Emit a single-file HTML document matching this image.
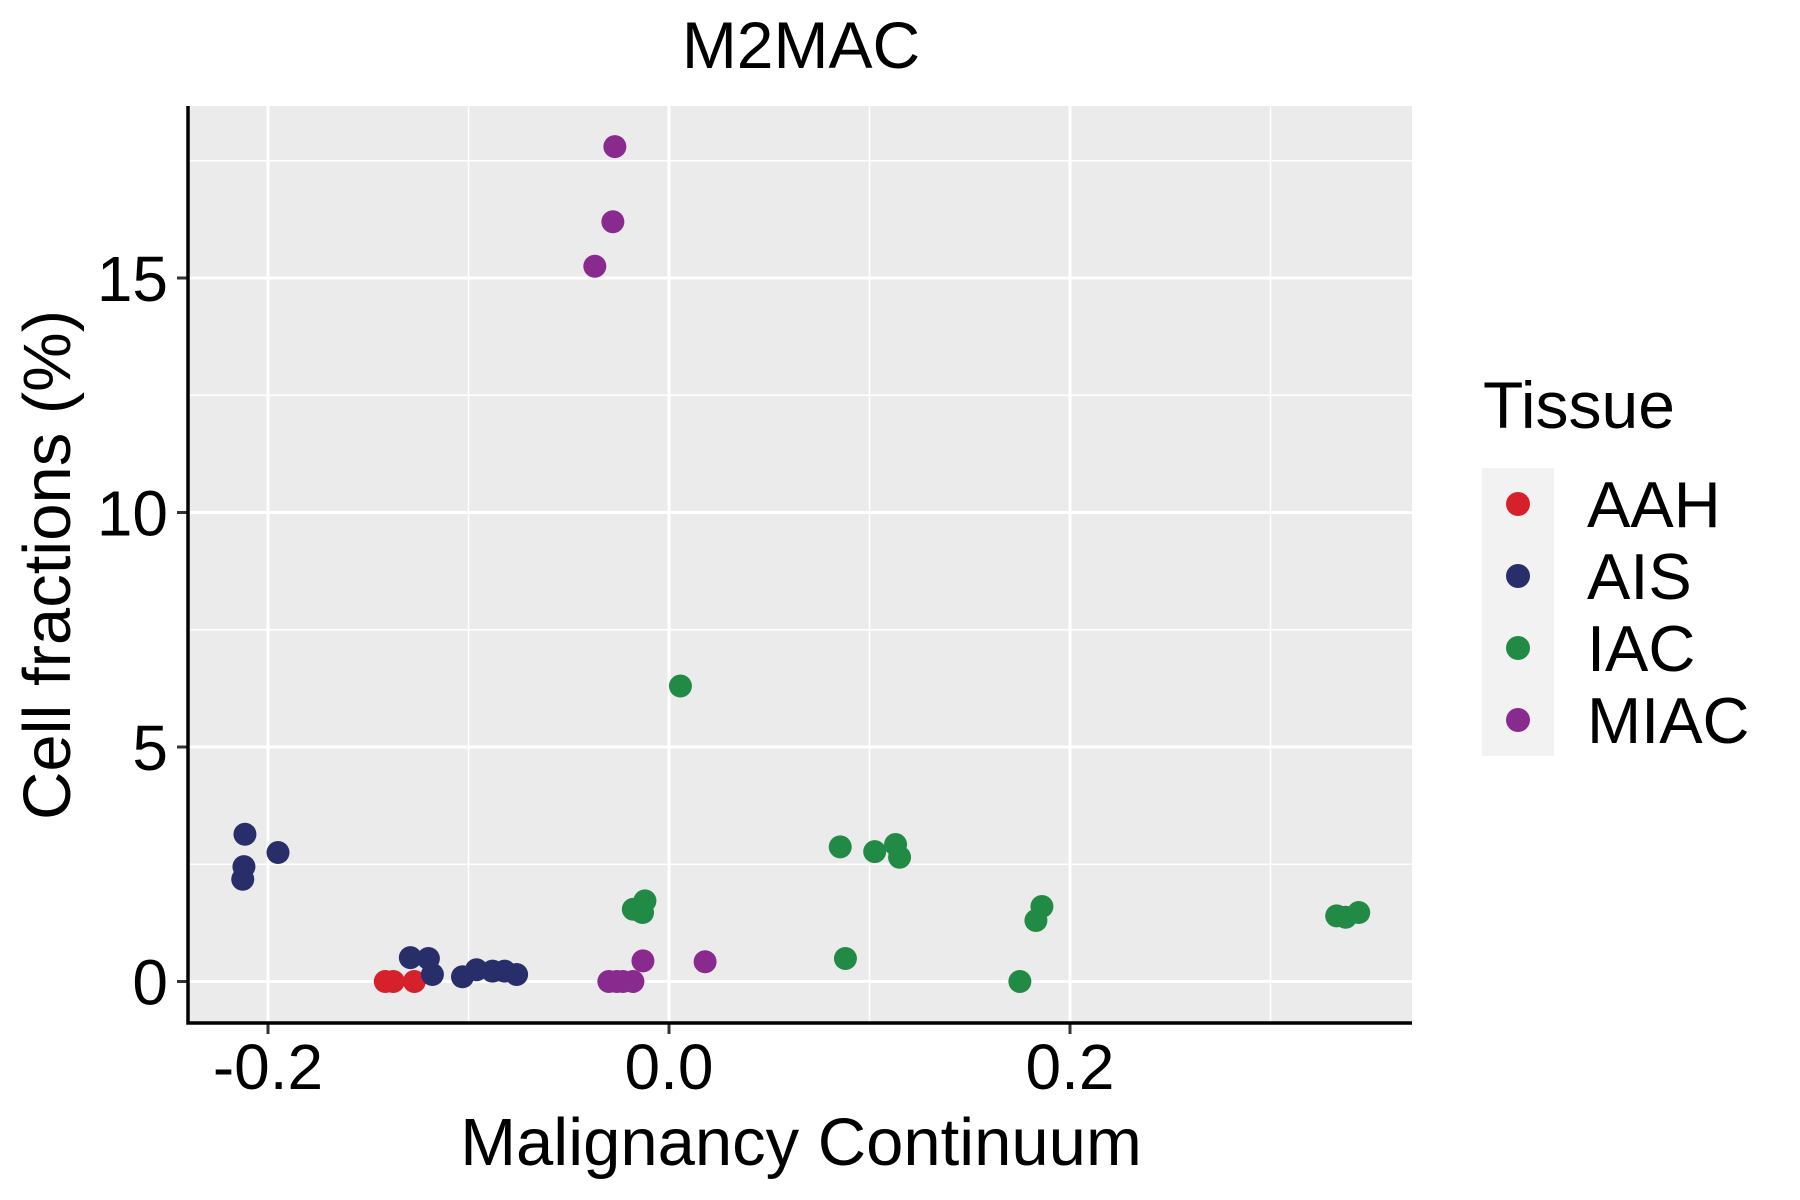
<!DOCTYPE html>
<html><head><meta charset="utf-8"><style>
html,body{margin:0;padding:0;background:#fff;}
svg{display:block;font-family:"Liberation Sans",Arial,sans-serif;}
</style></head><body>
<svg id="chart" width="1800" height="1200" viewBox="0 0 1800 1200" xmlns="http://www.w3.org/2000/svg">
<text x="801" y="68" font-size="66" text-anchor="middle">M2MAC</text>
<rect x="188" y="106" width="1224" height="917" fill="#EBEBEB"/>
<g id="grid"></g>
<g id="points"></g>
<g id="axes"></g>
<text x="801" y="1165" font-size="67" text-anchor="middle">Malignancy Continuum</text>
<text transform="translate(70,565) rotate(-90)" font-size="67" text-anchor="middle">Cell fractions (%)</text>
<g>
<text x="1483" y="428" font-size="66">Tissue</text>
<rect x="1482" y="468" width="72" height="288" fill="#F2F2F2"/>
<g id="legend"></g>
</g>
</svg>
<script>
const categories = ["AAH","AIS","IAC","MIAC"];
const colors = {"AAH":"#D7212A","AIS":"#282E6A","IAC":"#218B45","MIAC":"#892A8F"};
const aahX = [-0.1415,-0.1375,-0.127];
const aahY = [0,0,0];
const aisX = [-0.2115,-0.212,-0.2126,-0.195,-0.129,-0.120,-0.118,-0.103,-0.096,-0.088,-0.082,-0.076];
const aisY = [3.14,2.45,2.18,2.75,0.51,0.49,0.15,0.10,0.25,0.22,0.22,0.15];
const iacX = [0.0057,-0.0178,-0.0132,-0.012,0.0854,0.088,0.1026,0.113,0.115,0.175,0.183,0.186,0.333,0.3375,0.344];
const iacY = [6.3,1.54,1.47,1.72,2.87,0.49,2.77,2.92,2.65,0,1.3,1.6,1.40,1.37,1.47];
const miacX = [-0.027,-0.028,-0.037,-0.013,0.018,-0.030,-0.026,-0.023,-0.018];
const miacY = [17.8,16.2,15.25,0.44,0.42,0,0,0,0];
const xTicks = [-0.2,0.0,0.2];
const xTickLabels = ["-0.2","0.0","0.2"];
const xMinor = [-0.1,0.1,0.3];
const yTicks = [0,5,10,15];
const yTickLabels = ["0","5","10","15"];
const yMinor = [2.5,7.5,12.5,17.5];

const NS="http://www.w3.org/2000/svg";
const X0=188,X1=1412,Y0=106,Y1=1023;
function sx(v){return 669+v*2005;}
function sy(v){return 981.5-v*46.9;}
function mk(tag,attrs,parent){const e=document.createElementNS(NS,tag);for(const k in attrs)e.setAttribute(k,attrs[k]);parent.appendChild(e);return e;}
const grid=document.getElementById('grid'),pts=document.getElementById('points'),axes=document.getElementById('axes'),leg=document.getElementById('legend');
xMinor.forEach(v=>{const l=mk('line',{x1:sx(v),x2:sx(v),y1:Y0,y2:Y1,stroke:'#fff','stroke-width':1.5},grid);

});
yMinor.forEach(v=>{const l=mk('line',{x1:X0,x2:X1,y1:sy(v),y2:sy(v),stroke:'#fff','stroke-width':1.5},grid);

});
xTicks.forEach((v,i)=>{const l=mk('line',{x1:sx(v),x2:sx(v),y1:Y0,y2:Y1,stroke:'#fff','stroke-width':3},grid);


const t=mk('line',{x1:sx(v),x2:sx(v),y1:Y1,y2:Y1+11,stroke:'#333','stroke-width':3},axes);


const tx=mk('text',{x:sx(v),y:1089,'font-size':64,'text-anchor':'middle'},axes);tx.textContent=xTickLabels[i];

});
yTicks.forEach((v,i)=>{const l=mk('line',{x1:X0,x2:X1,y1:sy(v),y2:sy(v),stroke:'#fff','stroke-width':3},grid);


const t=mk('line',{x1:X0-11,x2:X0,y1:sy(v),y2:sy(v),stroke:'#333','stroke-width':3},axes);


const tx=mk('text',{x:168,y:sy(v)+23,'font-size':64,'text-anchor':'end'},axes);tx.textContent=yTickLabels[i];

});
const ax=mk('path',{d:`M${X0},${Y0} V${Y1} H${X1}`,fill:'none',stroke:'#000','stroke-width':3.5},axes);


const series=[["AAH",aahX,aahY],["AIS",aisX,aisY],["IAC",iacX,iacY],["MIAC",miacX,miacY]];
series.forEach(([n,xs,ys])=>{xs.forEach((x,i)=>{const c=mk('circle',{cx:sx(x),cy:sy(ys[i]),r:11.5,fill:colors[n]},pts);

});});
categories.forEach((n,i)=>{const cy=504+i*72;
const c=mk('circle',{cx:1518,cy:cy,r:12,fill:colors[n]},leg);


const t=mk('text',{x:1587,y:cy+23,'font-size':65},leg);t.textContent=n;

});
</script>
</body></html>
